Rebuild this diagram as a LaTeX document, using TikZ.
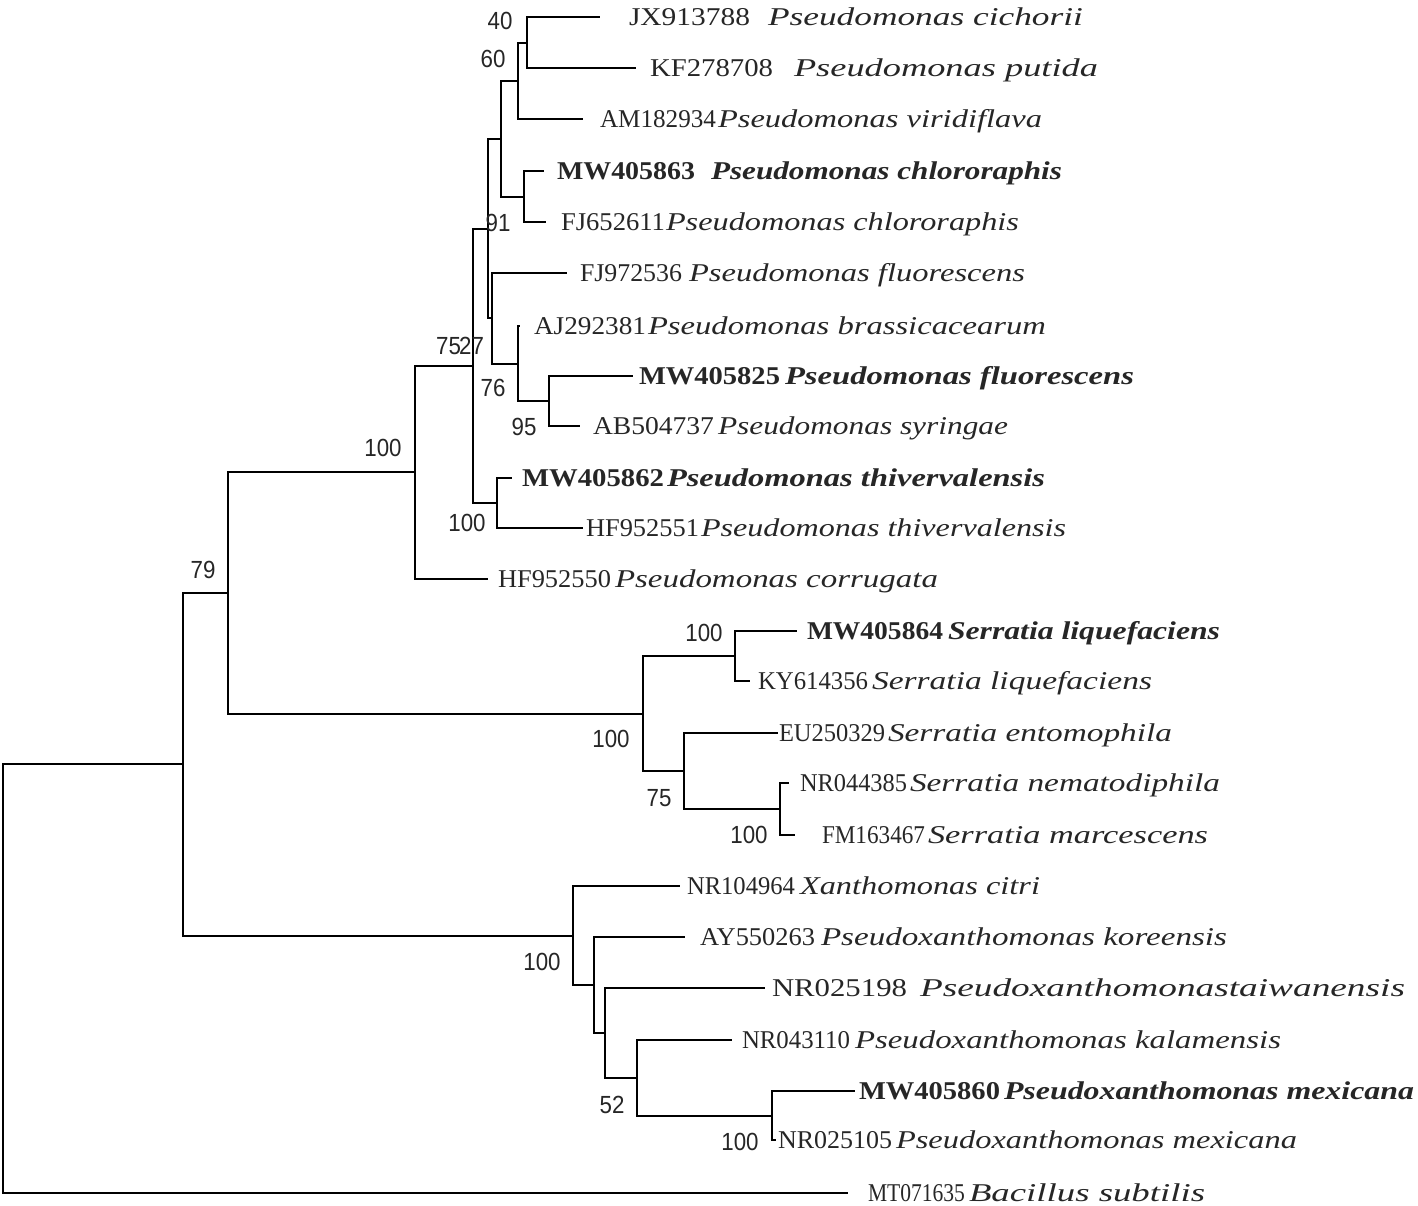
\documentclass[tikz,border=0pt]{standalone}
\usepackage{fontspec}
\setmainfont{Liberation Serif}
\newfontfamily\bsfont{Liberation Sans}
\usepackage{graphicx}

\tikzset{
  br/.style={line width=1pt, black},
  lab/.style={inner sep=0pt, outer sep=0pt, font=\fontsize{12.8}{15}\selectfont, text=black!85},
  bs/.style={inner sep=0pt, outer sep=0pt, font=\bsfont\fontsize{12.4}{14}\selectfont, text=black!85},
}

\newcommand\mytip[9]{%
  \coordinate (#1) at (#2,#3);
  \pgfmathsetmacro\wA{(#5-#4)*0.5}%
  \pgfmathsetmacro\wS{(#7-#6)*0.5}%
  \node[lab, anchor=base west] (#1acc) at (#4,#3+8.5) {\resizebox{\wA pt}{\height}{#8}};
  \node[lab, anchor=base west] (#1sp) at (#6,#3+8.5) {\resizebox{\wS pt}{\height}{\itshape #9}};
}
\newcommand\bsl[4]{\node[bs] (#1) at (#2,#3) {\scalebox{0.9}[1]{#4}};}

\begin{document}
\begin{tikzpicture}[x=0.5pt, y=-0.5pt]
\useasboundingbox (0,0) rectangle (1418,1205);

% tips
\mytip{t1}{600}{17}{629}{750}{768}{1083}{JX913788}{Pseudomonas cichorii}
\mytip{t2}{636}{68}{650}{773}{794}{1098}{KF278708}{Pseudomonas putida}
\mytip{t3}{583}{119}{600}{716}{718}{1042}{AM182934}{Pseudomonas viridiflava}
\mytip{t4}{544}{171}{557}{695}{711}{1062}{\bfseries MW405863}{\bfseries Pseudomonas chlororaphis}
\mytip{t5}{546}{222}{561}{665}{666}{1019}{FJ652611}{Pseudomonas chlororaphis}
\mytip{t6}{567}{273}{580}{682}{689}{1025}{FJ972536}{Pseudomonas fluorescens}
\mytip{t7}{520}{326}{534}{646}{648}{1046}{AJ292381}{Pseudomonas brassicacearum}
\mytip{t8}{633}{376}{639}{780}{785}{1134}{\bfseries MW405825}{\bfseries Pseudomonas fluorescens}
\mytip{t9}{580}{426}{593}{714}{718}{1008}{AB504737}{Pseudomonas syringae}
\mytip{t10}{512}{478}{522}{664}{667}{1045}{\bfseries MW405862}{\bfseries Pseudomonas thivervalensis}
\mytip{t11}{583}{528}{586}{699}{701}{1066}{HF952551}{Pseudomonas thivervalensis}
\mytip{t12}{488}{579}{498}{611}{615}{938}{HF952550}{Pseudomonas corrugata}
\mytip{t13}{797}{631}{807}{943}{948}{1220}{\bfseries MW405864}{\bfseries Serratia liquefaciens}
\mytip{t14}{750}{681}{758}{868}{872}{1152}{KY614356}{Serratia liquefaciens}
\mytip{t15}{778}{733}{779}{885}{888}{1172}{EU250329}{Serratia entomophila}
\mytip{t16}{789}{783}{800}{907}{910}{1220}{NR044385}{Serratia nematodiphila}
\mytip{t17}{795}{835}{822}{925}{928}{1208}{FM163467}{Serratia marcescens}
\mytip{t18}{680}{886}{687}{795}{800}{1040}{NR104964}{Xanthomonas citri}
\mytip{t19}{685}{937}{700}{815}{821}{1227}{AY550263}{Pseudoxanthomonas koreensis}
\mytip{t20}{765}{988}{772}{907}{920}{1405}{NR025198}{Pseudoxanthomonastaiwanensis}
\mytip{t21}{732}{1040}{742}{850}{855}{1281}{NR043110}{Pseudoxanthomonas kalamensis}
\mytip{t22}{855}{1091}{859}{1000}{1004}{1414}{\bfseries MW405860}{\bfseries Pseudoxanthomonas mexicana}
\mytip{t23}{776}{1140}{778}{892}{896}{1297}{NR025105}{Pseudoxanthomonas mexicana}
\mytip{t24}{848}{1193}{868}{965}{969}{1205}{MT071635}{Bacillus subtilis}

% internal nodes
\coordinate (n40) at (527,42.5);
\coordinate (n60) at (518,81);
\coordinate (nchl) at (524,196.5);
\coordinate (n501) at (501,139);
\coordinate (n95) at (549,401);
\coordinate (n76) at (518,363.5);
\coordinate (n27) at (492,318);
\coordinate (n91) at (488,228.5);
\coordinate (nthi) at (497,503);
\coordinate (n75) at (473,365.8);
\coordinate (n100a) at (415,472);
\coordinate (nliq) at (735,656);
\coordinate (nmar) at (780,809);
\coordinate (n75s) at (684,771);
\coordinate (nser) at (643,713.5);
\coordinate (n79) at (228,593);
\coordinate (nmex) at (772,1115.5);
\coordinate (n52) at (637,1078);
\coordinate (ntai) at (605,1033);
\coordinate (nkor) at (594,985);
\coordinate (nxan) at (573,935.5);
\coordinate (n183) at (183,764);
\coordinate (root) at (3,978.5);

\foreach \p/\c in {n40/t1, n40/t2, n60/n40, n60/t3, nchl/t4, nchl/t5, n501/n60, n501/nchl,
  n95/t8, n95/t9, n76/t7, n76/n95, n27/t6, n27/n76, n91/n501, n91/n27, nthi/t10, nthi/t11,
  n75/n91, n75/nthi, n100a/n75, n100a/t12, nliq/t13, nliq/t14, nmar/t16, nmar/t17,
  n75s/t15, n75s/nmar, nser/nliq, nser/n75s, n79/n100a, n79/nser, nmex/t22, nmex/t23,
  n52/t21, n52/nmex, ntai/t20, ntai/n52, nkor/t19, nkor/ntai, nxan/t18, nxan/nkor,
  n183/n79, n183/nxan, root/n183, root/t24}
  \draw[br] (\p) |- (\c);

% bootstrap values
\bsl{b40}{500}{21}{40}
\bsl{b60}{493}{59}{60}
\bsl{b91}{498}{223}{91}
\bsl{b75}{448.5}{346}{75}
\bsl{b27}{471.5}{346}{27}
\bsl{b76}{493}{388}{76}
\bsl{b95}{524}{427}{95}
\bsl{b100t}{467}{523}{100}
\bsl{b100a}{383}{448}{100}
\bsl{b79}{203}{570}{79}
\bsl{b100l}{704}{633}{100}
\bsl{b100s}{611}{739}{100}
\bsl{b75s}{659}{798}{75}
\bsl{b100m}{749}{835}{100}
\bsl{b100x}{542}{962}{100}
\bsl{b52}{612}{1105}{52}
\bsl{b100mx}{740}{1142}{100}
\end{tikzpicture}
\end{document}
